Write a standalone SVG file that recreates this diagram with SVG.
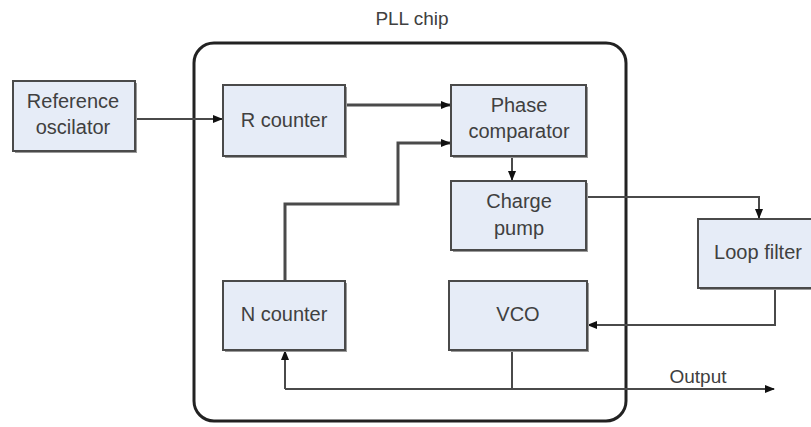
<svg xmlns="http://www.w3.org/2000/svg" width="811" height="427" viewBox="0 0 811 427">
<defs>
<style>
.box{fill:#e6ecf7;stroke:#4a4a4a;stroke-width:2;}
.shadow{fill:#9a9a9a;}
.t{font-family:"Liberation Sans",Arial,sans-serif;font-size:20px;fill:#404040;text-anchor:middle;}
.lbl{font-family:"Liberation Sans",Arial,sans-serif;font-size:19px;fill:#404040;text-anchor:middle;}
.c{fill:none;stroke:#4a4a4a;stroke-width:2;}
.thick{stroke-width:3;}
</style>
<marker id="arr" markerWidth="10" markerHeight="8" refX="9" refY="4" orient="auto" markerUnits="userSpaceOnUse">
<path d="M0,0 L10,4 L0,8 Z" fill="#111"/>
</marker>
</defs>
<rect width="811" height="427" fill="#fff"/>
<text class="lbl" x="412" y="25">PLL chip</text>
<g id="chip">
<rect x="194" y="43" width="432" height="378" rx="20" ry="20" fill="none" stroke="#222" stroke-width="3"/>
</g>
<g id="connectors">
<path class="c" d="M135,119 H222" marker-end="url(#arr)"/>
<path class="c thick" d="M345,105 H450" marker-end="url(#arr)"/>
<path class="c thick" d="M285,281 V204 H398 V143 H450" marker-end="url(#arr)"/>
<path class="c" d="M512,156 V180" marker-end="url(#arr)"/>
<path class="c" d="M586,197 H759 V218" marker-end="url(#arr)"/>
<path class="c" d="M775,288 V325 H588" marker-end="url(#arr)"/>
<path class="c" d="M512,350 V389"/>
<path class="c" d="M285,389 V351" marker-end="url(#arr)"/>
<path class="c" d="M285,389 H774" marker-end="url(#arr)"/>
</g>
<text class="lbl" x="698" y="383">Output</text>
<g id="ref-osc">
<rect class="shadow" x="15" y="83" width="122" height="70"/>
<rect class="box" x="13" y="81" width="122" height="70"/>
<text class="t" x="73" y="108">Reference</text>
<text class="t" x="73" y="134">oscilator</text>
</g>
<g id="r-counter">
<rect class="shadow" x="225" y="87" width="122" height="71"/>
<rect class="box" x="223" y="85" width="122" height="71"/>
<text class="t" x="284" y="127">R counter</text>
</g>
<g id="phase-comp">
<rect class="shadow" x="453" y="87" width="135" height="71"/>
<rect class="box" x="451" y="85" width="135" height="71"/>
<text class="t" x="519" y="112">Phase</text>
<text class="t" x="519" y="138">comparator</text>
</g>
<g id="charge-pump">
<rect class="shadow" x="453" y="183" width="135" height="69"/>
<rect class="box" x="451" y="181" width="135" height="69"/>
<text class="t" x="519" y="208">Charge</text>
<text class="t" x="519" y="235">pump</text>
</g>
<g id="n-counter">
<rect class="shadow" x="225" y="283" width="122" height="69"/>
<rect class="box" x="223" y="281" width="122" height="69"/>
<text class="t" x="284" y="321">N counter</text>
</g>
<g id="vco">
<rect class="shadow" x="451" y="283" width="138" height="69"/>
<rect class="box" x="449" y="281" width="138" height="69"/>
<text class="t" x="518" y="321">VCO</text>
</g>
<g id="loop-filter">
<rect class="shadow" x="700" y="221" width="120" height="69"/>
<rect class="box" x="698" y="219" width="120" height="69"/>
<text class="t" x="758" y="259">Loop filter</text>
</g>
</svg>
